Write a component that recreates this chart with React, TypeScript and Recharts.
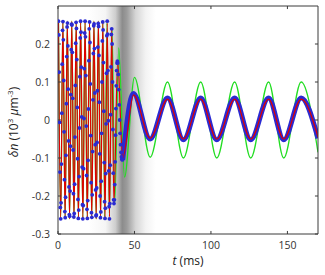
import React from "react";
import {
  ComposedChart,
  Line,
  Scatter,
  XAxis,
  YAxis,
  ReferenceArea,
  ReferenceLine,
} from "recharts";

// ---- tick labels ----
const xTicks = [0, 50, 100, 150];
const yTicks = [-0.3, -0.2, -0.1, 0, 0.1, 0.2];

// ---- red line (model) : extrema ----
const redT = [
  0.3, 1.75, 3.2, 4.65, 6.1, 7.55, 9.0, 10.45, 11.9, 13.35, 14.8, 16.25, 17.7,
  19.15, 20.6, 22.05, 23.5, 24.95, 26.4, 27.85, 29.3, 30.75, 32.2, 33.65, 35.1,
  36.55, 39.0, 42.3, 49.4, 60.3, 71.6, 82.0, 93.3, 103.8, 115.5, 126.0, 137.7,
  147.6, 159.0, 170,
];
const redV = [
  0.26, -0.26, 0.26, -0.26, 0.26, -0.26, 0.26, -0.26, 0.26, -0.26, 0.26, -0.26,
  0.26, -0.26, 0.26, -0.26, 0.26, -0.26, 0.26, -0.26, 0.26, -0.26, 0.255,
  -0.255, 0.24, -0.22, 0.155, -0.1, 0.066, -0.048, 0.055, -0.05, 0.055, -0.05,
  0.055, -0.05, 0.055, -0.05, 0.055, -0.045,
];

// ---- green line ----
const greenT = [
  0.3, 1.75, 3.2, 4.65, 6.1, 7.55, 9.0, 10.45, 11.9, 13.35, 14.8, 16.25, 17.7,
  19.15, 20.6, 22.05, 23.5, 24.95, 26.4, 27.85, 29.3, 30.5, 32.0, 33.6, 35.4,
  37.1, 39.7, 43.5, 50.0, 60.3, 71.6, 82.0, 93.3, 103.8, 115.5, 126.0, 137.7,
  147.6, 159.0, 170,
];
const greenV = [
  0.26, -0.26, 0.26, -0.26, 0.26, -0.26, 0.26, -0.26, 0.26, -0.26, 0.26, -0.26,
  0.26, -0.26, 0.26, -0.26, 0.26, -0.26, 0.26, -0.26, 0.26, -0.255, 0.255,
  -0.245, 0.237, -0.218, 0.19, -0.15, 0.112, -0.098, 0.1, -0.1, 0.1, -0.1, 0.1,
  -0.1, 0.1, -0.1, 0.1, -0.085,
];

// ---- blue measured points (fast part + transition) ----
const blueDotT = [
  0.3, 0.55, 0.79, 1.04, 1.28, 1.53, 1.77, 2.02, 2.26, 2.51, 2.75,
  3.0, 3.24, 3.49, 3.73, 3.98, 4.22, 4.47, 4.72, 4.96, 5.21, 5.45,
  5.7, 5.94, 6.19, 6.43, 6.68, 6.92, 7.17, 7.41, 7.66, 7.9, 8.15,
  8.39, 8.64, 8.89, 9.13, 9.38, 9.62, 9.87, 10.11, 10.36, 10.6, 10.85,
  11.09, 11.34, 11.58, 11.83, 12.07, 12.32, 12.57, 12.81, 13.06, 13.3, 13.55,
  13.79, 14.04, 14.28, 14.53, 14.77, 15.02, 15.26, 15.51, 15.75, 16.0, 16.24,
  16.49, 16.74, 16.98, 17.23, 17.47, 17.72, 17.96, 18.21, 18.45, 18.7, 18.94,
  19.19, 19.43, 19.68, 19.92, 20.17, 20.41, 20.66, 20.91, 21.15, 21.4, 21.64,
  21.89, 22.13, 22.38, 22.62, 22.87, 23.11, 23.36, 23.6, 23.85, 24.09, 24.34,
  24.58, 24.83, 25.08, 25.32, 25.57, 25.81, 26.06, 26.3, 26.55, 26.79, 27.04,
  27.28, 27.53, 27.77, 28.02, 28.26, 28.51, 28.75, 29.0, 29.25, 29.49, 29.74,
  29.98, 30.23, 30.47, 30.72, 30.96, 31.21, 31.45, 31.7, 31.94, 32.19, 32.43,
  32.68, 32.92, 33.17, 33.42, 33.66, 33.91, 34.15, 34.4, 34.64, 34.89, 35.13,
  35.38, 35.62, 35.87, 36.11, 36.36, 36.6,
  36.85, 37.1, 37.35, 37.6, 37.85, 38.1, 38.35, 38.6, 38.85, 39.1, 39.4, 39.7,
  40.0, 40.3, 40.6, 40.9, 41.2, 41.5, 41.8, 42.1,
];
const blueDotV = [
  0.26, 0.224, 0.126, -0.006, -0.137, -0.23, -0.26, -0.218, -0.116, 0.018, 0.147,
  0.236, 0.259, 0.211, 0.104, -0.031, -0.157, -0.241, -0.257, -0.203, -0.093, 0.043,
  0.167, 0.245, 0.255, 0.195, 0.081, -0.055, -0.176, -0.249, -0.253, -0.187, -0.069,
  0.067, 0.185, 0.252, 0.25, 0.178, 0.057, -0.079, -0.194, -0.255, -0.246, -0.169,
  -0.045, 0.091, 0.202, 0.257, 0.241, 0.159, 0.033, -0.102, -0.209, -0.259, -0.237,
  -0.149, -0.021, 0.114, 0.216, 0.26, 0.231, 0.139, 0.008, -0.124, -0.223, -0.26,
  -0.225, -0.128, 0.004, 0.135, 0.229, 0.26, 0.219, 0.117, -0.016, -0.146, -0.235,
  -0.259, -0.212, -0.106, 0.029, 0.156, 0.24, 0.258, 0.204, 0.095, -0.041, -0.165,
  -0.244, -0.256, -0.197, -0.083, 0.053, 0.175, 0.248, 0.253, 0.188, 0.071, -0.065,
  -0.184, -0.252, -0.25, -0.179, -0.059, 0.077, 0.192, 0.254, 0.246, 0.17, 0.047,
  -0.089, -0.2, -0.257, -0.242, -0.161, -0.035, 0.1, 0.208, 0.258, 0.237, 0.151,
  0.023, -0.112, -0.215, -0.259, -0.232, -0.141, -0.01, 0.123, 0.222, 0.26, 0.226,
  0.13, -0.002, -0.134, -0.228, -0.26, -0.22, -0.119, 0.014, 0.14, 0.225, 0.24,
  0.2, 0.1, -0.025, -0.14, -0.21, -0.22,
  -0.21, -0.17, -0.11, -0.04, 0.03, 0.09, 0.13, 0.15, 0.155, 0.15, 0.12, 0.08,
  0.04, 0.0, -0.035, -0.065, -0.085, -0.097, -0.103, -0.105,
];

// ---- blue measured band (slow part) ----
const blueBandT = [
  42.3, 49.3, 60.2, 71.6, 82.0, 93.3, 103.8, 115.5, 126.0, 137.7, 147.6, 159.0,
  170,
];
const blueBandV = [
  -0.105, 0.07, -0.05, 0.058, -0.052, 0.058, -0.052, 0.058, -0.052, 0.058,
  -0.052, 0.058, -0.048,
];

const pairs = (ts: number[], vs: number[]) =>
  ts.map((t, i) => ({ t, v: vs[i] }));

const redData = pairs(redT, redV);
const greenData = pairs(greenT, greenV);
const blueDots = pairs(blueDotT, blueDotV);
const blueBand = pairs(blueBandT, blueBandV);

const AX = "#3a3a3a";
const FONT = "'Open Sans', 'DejaVu Sans', sans-serif";

const Dot = (p: any) => (
  <circle cx={p.cx} cy={p.cy} r={1.9} fill="#2a2ad2" />
);

export default function App() {
  return (
    <div
      style={{
        position: "absolute",
        left: 0,
        top: 0,
        width: 325,
        height: 275,
        background: "#fff",
      }}
    >
      <ComposedChart
        width={325}
        height={275}
        margin={{ top: 6, right: 7, bottom: 0, left: 0 }}
      >
        <defs>
          <linearGradient id="shade" x1="0" y1="0" x2="1" y2="0">
            <stop offset="0" stopColor="#5a5a5a" stopOpacity={0} />
            <stop offset="0.25" stopColor="#5a5a5a" stopOpacity={0.06} />
            <stop offset="0.4" stopColor="#5a5a5a" stopOpacity={0.3} />
            <stop offset="0.5" stopColor="#5a5a5a" stopOpacity={0.7} />
            <stop offset="0.57" stopColor="#5a5a5a" stopOpacity={0.6} />
            <stop offset="0.7" stopColor="#5a5a5a" stopOpacity={0.25} />
            <stop offset="0.85" stopColor="#5a5a5a" stopOpacity={0.07} />
            <stop offset="1" stopColor="#5a5a5a" stopOpacity={0} />
          </linearGradient>
        </defs>
        <XAxis
          type="number"
          dataKey="t"
          domain={[0, 170]}
          ticks={xTicks}
          allowDataOverflow
          height={41}
          tickLine={false}
          axisLine={{ stroke: AX, strokeWidth: 1 }}
          tick={{ fill: "#333", fontSize: 10.5, fontFamily: FONT }}
        />
        <YAxis
          type="number"
          dataKey="v"
          domain={[-0.3, 0.3]}
          ticks={yTicks}
          allowDataOverflow
          width={58}
          tickLine={false}
          axisLine={{ stroke: AX, strokeWidth: 1 }}
          tick={{ fill: "#333", fontSize: 10.5, fontFamily: FONT }}
          tickFormatter={(v: number) => String(v)}
        />
        <ReferenceArea
          x1={20}
          x2={64}
          y1={-0.3}
          y2={0.3}
          fill="url(#shade)"
          fillOpacity={1}
          stroke="none"
          ifOverflow="visible"
        />
        <Line
          data={greenData}
          dataKey="v"
          type="monotone"
          stroke="#22dd22"
          strokeWidth={1.3}
          dot={false}
          isAnimationActive={false}
        />
        <Line
          data={blueBand}
          dataKey="v"
          type="monotone"
          stroke="#2a2ad2"
          strokeWidth={5}
          dot={false}
          isAnimationActive={false}
        />
        <Line
          data={redData}
          dataKey="v"
          type="monotone"
          stroke="#e00000"
          strokeWidth={1.2}
          dot={false}
          isAnimationActive={false}
        />
        <Scatter
          data={blueDots}
          dataKey="v"
          shape={Dot}
          isAnimationActive={false}
        />
        {/* box and inward tick marks */}
        <ReferenceLine y={0.3} stroke={AX} ifOverflow="visible" />
        <ReferenceLine x={170} stroke={AX} ifOverflow="visible" />
        {xTicks.map((v) => (
          <ReferenceLine
            key={"xb" + v}
            segment={[
              { x: v, y: -0.3 },
              { x: v, y: -0.292 },
            ]}
            stroke={AX}
            ifOverflow="visible"
          />
        ))}
        {xTicks.map((v) => (
          <ReferenceLine
            key={"xt" + v}
            segment={[
              { x: v, y: 0.3 },
              { x: v, y: 0.292 },
            ]}
            stroke={AX}
            ifOverflow="visible"
          />
        ))}
        {yTicks.map((v) => (
          <ReferenceLine
            key={"yl" + v}
            segment={[
              { x: 0, y: v },
              { x: 2, y: v },
            ]}
            stroke={AX}
            ifOverflow="visible"
          />
        ))}
        {yTicks.map((v) => (
          <ReferenceLine
            key={"yr" + v}
            segment={[
              { x: 170, y: v },
              { x: 168, y: v },
            ]}
            stroke={AX}
            ifOverflow="visible"
          />
        ))}
      </ComposedChart>
      <svg
        width={325}
        height={275}
        style={{ position: "absolute", left: 0, top: 0, pointerEvents: "none" }}
      >
        <text
          x={188}
          y={265}
          textAnchor="middle"
          fontFamily={FONT}
          fontSize={12}
          fill="#222"
        >
          <tspan fontStyle="italic">t</tspan>
          <tspan> (ms)</tspan>
        </text>
        <text
          x={18}
          y={122}
          textAnchor="middle"
          transform="rotate(-90 18 122)"
          fontFamily={FONT}
          fontSize={12}
          fill="#222"
        >
          <tspan fontStyle="italic">δn</tspan>
          <tspan> (10</tspan>
          <tspan fontSize={8} dy={-5}>
            3
          </tspan>
          <tspan dy={5}> </tspan>
          <tspan fontStyle="italic">μ</tspan>
          <tspan>m</tspan>
          <tspan fontSize={8} dy={-5}>
            -3
          </tspan>
          <tspan dy={5}>)</tspan>
        </text>
      </svg>
    </div>
  );
}
